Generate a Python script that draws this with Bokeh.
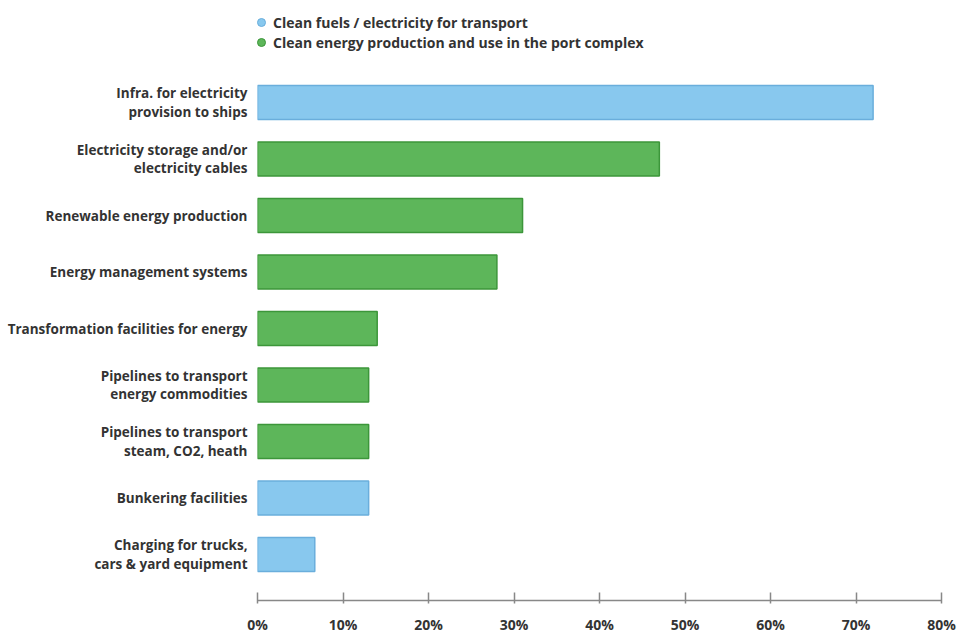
from bokeh.plotting import figure
from bokeh.models import ColumnDataSource, Range1d, FixedTicker, Legend, LegendItem, NumeralTickFormatter
from bokeh.embed import file_html
from bokeh.resources import INLINE

categories = [
    "Infra. for electricity\nprovision to ships",
    "Electricity storage and/or\nelectricity cables",
    "Renewable energy production",
    "Energy management systems",
    "Transformation facilities for energy",
    "Pipelines to transport\nenergy commodities",
    "Pipelines to transport\nsteam, CO2, heath",
    "Bunkering facilities",
    "Charging for trucks,\ncars & yard equipment",
]
values = [72, 47, 31, 28, 14, 13, 13, 13, 6.7]
groups = ["transport", "port", "port", "port", "port", "port", "port", "transport", "transport"]
legend_labels = {
    "transport": "Clean fuels / electricity for transport",
    "port": "Clean energy production and use in the port complex",
}
x_ticks = [0, 10, 20, 30, 40, 50, 60, 70, 80]

FILL = {"transport": "#88C8EE", "port": "#5DB65A"}
LINE = {"transport": "#6AAEDC", "port": "#3C963A"}
FONT = "Open Sans"
TXT = "#333333"

n = len(categories)
pos = [n - 1 - i for i in range(n)]

# frame spans from just under the top edge down to the axis line
p = figure(width=957, height=633, output_backend="svg", toolbar_location=None,
           x_range=Range1d(0, 80), y_range=Range1d(-0.814, 9.717),
           min_border_left=257, min_border_right=16, min_border_top=5, min_border_bottom=33,
           frame_width=684, frame_height=595)
p.outline_line_color = None
p.grid.visible = False

legend_items = []
for g in ["transport", "port"]:
    idx = [i for i in range(n) if groups[i] == g]
    src = ColumnDataSource(dict(y=[pos[i] for i in idx], v=[values[i] for i in idx]))
    p.hbar(y="y", right="v", left=0, height=0.6, source=src,
           fill_color=FILL[g], line_color=LINE[g], line_width=1.5)
    # zero-size proxy marker, only visible in the legend
    dot = p.scatter(x=[0], y=[pos[idx[0]]], marker="circle", size=0,
                    fill_color=FILL[g], line_color=LINE[g], line_width=1)
    legend_items.append(LegendItem(label=legend_labels[g], renderers=[dot]))

legend = Legend(items=legend_items, location=(-6, 548), orientation="vertical",
                border_line_color=None, background_fill_alpha=0,
                padding=0, margin=0, spacing=0,
                glyph_width=20, glyph_height=20, label_standoff=2, label_height=16,
                label_text_font=FONT, label_text_font_style="bold",
                label_text_font_size="14px", label_text_color=TXT)
p.add_layout(legend, "center")

xa = p.xaxis[0]
xa.ticker = FixedTicker(ticks=x_ticks)
xa.formatter = NumeralTickFormatter(format="0")
xa.major_label_overrides = {t: f"{t}%" for t in x_ticks}
xa.axis_line_color = "#888888"
xa.axis_line_width = 1.5
xa.major_tick_line_color = "#888888"
xa.major_tick_line_width = 1.5
xa.major_tick_in = 8
xa.major_tick_out = 3
xa.minor_tick_line_color = None
xa.major_label_standoff = 11
xa.major_label_text_font = FONT
xa.major_label_text_font_style = "bold"
xa.major_label_text_font_size = "14px"
xa.major_label_text_color = TXT

ya = p.yaxis[0]
ya.ticker = FixedTicker(ticks=pos)
ya.major_label_overrides = {pos[i]: categories[i] for i in range(n)}
ya.axis_line_color = None
ya.major_tick_line_color = None
ya.major_tick_in = 0
ya.major_tick_out = 0
ya.minor_tick_line_color = None
ya.major_label_standoff = 10
ya.major_label_text_font = FONT
ya.major_label_text_font_style = "bold"
ya.major_label_text_font_size = "13.5px"
ya.major_label_text_color = TXT
ya.major_label_text_line_height = 1.05

open("out.html", "w").write(file_html(p, INLINE))
